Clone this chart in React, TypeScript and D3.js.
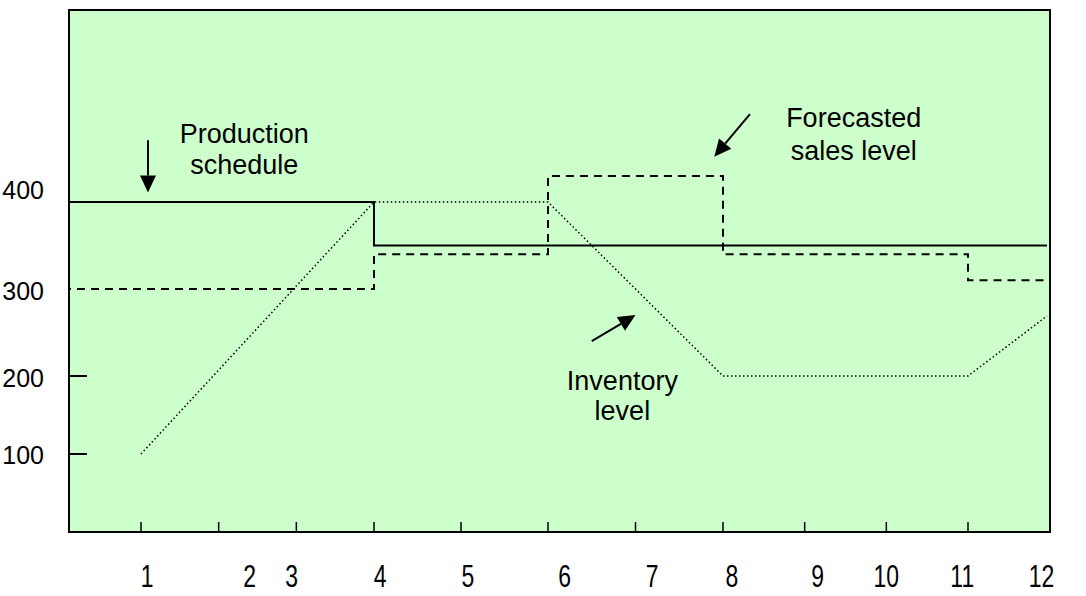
import React from "react";
import * as d3 from "d3";

// ---- data (periods on x, units on y) ----
const productionPeriods = [0, 4, 12];
const productionValues = [400, 350, 350];

const forecastPeriods = [0, 4, 6, 8, 11, 12];
const forecastValues = [300, 340, 430, 340, 310, 310];

const inventoryPeriods = [1, 4, 6, 8, 11, 12];
const inventoryValues = [100, 400, 400, 200, 200, 269];

const xTickPeriods = [1, 2, 3, 4, 5, 6, 7, 8, 9, 10, 11];
const xTickLabels = ["1", "2", "3", "4", "5", "6", "7", "8", "9", "10", "11", "12"];
const xLabelAt = [1.08, 2.4, 2.94, 4.07, 5.08, 6.19, 7.19, 8.11, 9.16, 10.0, 10.93, 11.93];

const yTickValues = [100, 200];
const yTickLabels = ["400", "300", "200", "100"];
const yLabelAt = [414, 298, 198, 99];

// annotations in data coordinates
const annotations = [
  { lines: ["Production", "schedule"], x: 2.33, y: [468, 432] },
  { lines: ["Forecasted", "sales level"], x: 9.6, y: [486, 448] },
  { lines: ["Inventory", "level"], x: 6.85, y: [182, 144] },
];
const arrows = [
  { from: [1.09, 471], to: [1.09, 411] },
  { from: [8.33, 501], to: [7.9, 452] },
  { from: [6.5, 240], to: [7.0, 270] },
];

const W = 1086;
const H = 596;
const plot = { left: 69, top: 10, right: 1050, bottom: 532 };

export default function App() {
  const x = d3
    .scaleLinear()
    .domain([0, 1, 4, 6, 8, 11, 12])
    .range([69, 141, 374, 548, 723, 968, 1047]);
  const y = d3
    .scaleLinear()
    .domain([0, 100, 200, 300, 400, 500])
    .range([532, 454, 376, 289, 202, 115]);

  const step = d3
    .line<[number, number]>()
    .x((d) => x(d[0]))
    .y((d) => y(d[1]))
    .curve(d3.curveStepAfter);
  const lin = d3
    .line<[number, number]>()
    .x((d) => x(d[0]))
    .y((d) => y(d[1]));

  const prod = productionPeriods.map((p, i) => [p, productionValues[i]] as [number, number]);
  const fc = forecastPeriods.map((p, i) => [p, forecastValues[i]] as [number, number]);
  const inv = inventoryPeriods.map((p, i) => [p, inventoryValues[i]] as [number, number]);

  const font = "Arial, 'Liberation Sans', sans-serif";

  const arrowHead = (a: { from: number[]; to: number[] }) => {
    const x1 = x(a.from[0]), y1 = y(a.from[1]);
    const x2 = x(a.to[0]), y2 = y(a.to[1]);
    const ang = Math.atan2(y2 - y1, x2 - x1);
    const len = 17, half = 8;
    const bx = x2 - len * Math.cos(ang), by = y2 - len * Math.sin(ang);
    const px = -Math.sin(ang) * half, py = Math.cos(ang) * half;
    return {
      line: [x1, y1, bx, by],
      head: `${x2},${y2} ${bx + px},${by + py} ${bx - px},${by - py}`,
    };
  };

  return (
    <div style={{ position: "absolute", left: 0, top: 0 }}>
      <svg width={W} height={H} style={{ display: "block", background: "#fff" }}>
        <rect
          x={plot.left}
          y={plot.top}
          width={plot.right - plot.left}
          height={plot.bottom - plot.top}
          fill="#CCFFCC"
          stroke="#000"
          strokeWidth={2}
        />
        {/* x ticks */}
        {xTickPeriods.map((p) => (
          <line key={p} x1={x(p)} x2={x(p)} y1={plot.bottom} y2={plot.bottom - 10} stroke="#000" strokeWidth={1.5} />
        ))}
        {/* y ticks */}
        {yTickValues.map((v) => (
          <line key={v} x1={plot.left} x2={plot.left + 18} y1={y(v)} y2={y(v)} stroke="#000" strokeWidth={2} />
        ))}
        {/* series */}
        <path d={step(fc) || ""} fill="none" stroke="#000" strokeWidth={2} strokeDasharray="8 6" strokeDashoffset={-8} />
        <path d={step(prod) || ""} fill="none" stroke="#000" strokeWidth={2} />
        <path d={lin(inv) || ""} fill="none" stroke="#000" strokeWidth={1.5} strokeDasharray="1.5 2.5" />
        {/* y labels */}
        {yTickLabels.map((t, i) => (
          <text key={t} x={44} y={y(yLabelAt[i])} dy="0.36em" textAnchor="end" fontFamily={font} fontSize={25} fill="#000">
            {t}
          </text>
        ))}
        {/* x labels */}
        {xTickLabels.map((t, i) => (
          <text
            key={t}
            transform={`translate(${x(xLabelAt[i])},587) scale(0.85,1.15)`}
            textAnchor="middle"
            fontFamily={font}
            fontSize={27}
            fill="#000"
          >
            {t}
          </text>
        ))}
        {/* annotations */}
        {annotations.map((a, i) => (
          <g key={i}>
            {a.lines.map((l, j) => (
              <text key={j} x={x(a.x)} y={y(a.y[j])} textAnchor="middle" fontFamily={font} fontSize={27} fill="#000">
                {l}
              </text>
            ))}
          </g>
        ))}
        {arrows.map((a, i) => {
          const h = arrowHead(a);
          return (
            <g key={i}>
              <line x1={h.line[0]} y1={h.line[1]} x2={h.line[2]} y2={h.line[3]} stroke="#000" strokeWidth={2} />
              <polygon points={h.head} fill="#000" />
            </g>
          );
        })}
      </svg>
    </div>
  );
}
